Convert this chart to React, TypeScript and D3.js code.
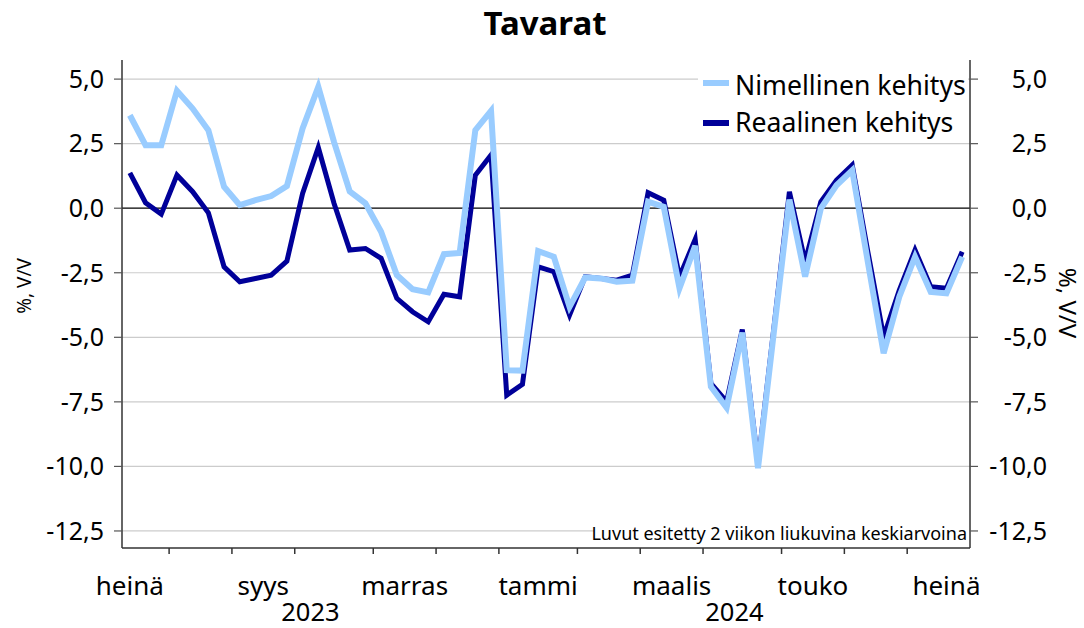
import React from "react";
import * as d3 from "d3";

const weeks: string[] = [
  "2023-07-17","2023-07-24","2023-07-31","2023-08-07","2023-08-14","2023-08-21","2023-08-28",
  "2023-09-04","2023-09-11","2023-09-18","2023-09-25","2023-10-02","2023-10-09","2023-10-16",
  "2023-10-23","2023-10-30","2023-11-06","2023-11-13","2023-11-20","2023-11-27","2023-12-04",
  "2023-12-11","2023-12-18","2023-12-25","2024-01-01","2024-01-08","2024-01-15","2024-01-22",
  "2024-01-29","2024-02-05","2024-02-12","2024-02-19","2024-02-26","2024-03-04","2024-03-11",
  "2024-03-18","2024-03-25","2024-04-01","2024-04-08","2024-04-15","2024-04-22","2024-04-29",
  "2024-05-06","2024-05-13","2024-05-20","2024-05-27","2024-06-03","2024-06-10","2024-06-17",
  "2024-06-24","2024-07-01","2024-07-08","2024-07-15","2024-07-22"
];

const nimellinen: number[] = [
  3.60, 2.44, 2.44, 4.55, 3.86, 3.02, 0.83, 0.12, 0.31, 0.47, 0.86, 3.09, 4.70, 2.57,
  0.65, 0.19, -0.91, -2.59, -3.14, -3.26, -1.78, -1.73, 3.02, 3.77, -6.27, -6.29, -1.66,
  -1.88, -3.82, -2.68, -2.72, -2.85, -2.81, 0.25, 0.05, -3.10, -1.46, -6.91, -7.72, -4.82,
  -10.07, -4.85, 0.33, -2.65, -0.01, 0.89, 1.47, -2.1, -5.62, -3.43, -1.88, -3.24, -3.30, -1.88
];

const reaalinen: number[] = [
  1.37, 0.21, -0.23, 1.28, 0.64, -0.18, -2.27, -2.85, -2.72, -2.59, -2.05, 0.57, 2.35, 0.19,
  -1.62, -1.56, -1.94, -3.49, -4.01, -4.40, -3.33, -3.43, 1.28, 2.06, -7.24, -6.82, -2.27,
  -2.46, -4.14, -2.65, -2.72, -2.79, -2.59, 0.60, 0.31, -2.65, -1.21, -6.78, -7.49, -4.70,
  -9.9, -4.7, 0.64, -2.07, 0.25, 1.09, 1.67, -1.7, -4.98, -3.17, -1.62, -3.04, -3.10, -1.69
];

const yTicks: number[] = [5, 2.5, 0, -2.5, -5, -7.5, -10, -12.5];
const monthNames: string[] = ["tammi","helmi","maalis","huhti","touko","kesä","heinä","elo","syys","loka","marras","joulu"];
const labelMonths: string[] = ["2023-07","2023-09","2023-11","2024-01","2024-03","2024-05","2024-07"];
const years: string[] = ["2023", "2024"];

const W = 1084, H = 628;
const L = 122, R = 970, T = 60, B = 548;
const FONT = "'Noto Sans', 'Open Sans', sans-serif";
const LIGHT = "#99ccff";
const DARK = "#000099";

export default function App() {
  const parse = d3.utcParse("%Y-%m-%d");
  const dates = weeks.map((w) => parse(w) as Date);
  const x = d3.scaleBand<string>().domain(weeks).range([L, R]).paddingInner(0).paddingOuter(0);
  const bw = x.bandwidth();
  const cx = (i: number) => (x(weeks[i]) as number) + bw / 2;
  const y = d3.scaleLinear().domain([-13.16, 5.74]).range([B, T]);
  const fmt = (v: number) => d3.format(".1f")(v).replace(".", ",").replace("−", "-");

  const line = d3
    .line<number>()
    .x((_, i) => cx(i))
    .y((d) => y(d));

  const monthTicks: number[] = [];
  for (let i = 1; i < dates.length; i++) {
    if (dates[i].getUTCMonth() !== dates[i - 1].getUTCMonth()) monthTicks.push(x(weeks[i]) as number);
  }
  const t0 = dates[0].getTime();
  const idxOf = (d: Date) => (d.getTime() - t0) / (7 * 86400000);
  const monthLabels = labelMonths.map((m) => {
    const start = parse(m + "-01") as Date;
    const end = d3.utcMonth.offset(start, 1);
    const mondays = d3.utcMonday.range(start, end);
    const si = idxOf(mondays[0]);
    const center = L + bw * (si + mondays.length / 2);
    return { text: monthNames[start.getUTCMonth()], x: center };
  });
  const yearLabels = years.map((yr) => {
    const s = parse(yr + "-01-01") as Date;
    const e = parse(String(+yr + 1) + "-01-01") as Date;
    const first = d3.utcMonday.ceil(s);
    const last = d3.utcMonday.ceil(e);
    const a = Math.max(L, L + bw * idxOf(first));
    const b = Math.min(R, L + bw * idxOf(last));
    return { text: yr, x: (a + b) / 2 };
  });

  return (
    <svg width={W} height={H} style={{ position: "absolute", left: 0, top: 0, background: "#fff" }} fontFamily={FONT}>
      <rect x={0} y={0} width={W} height={H} fill="#fff" />
      <text x={545} y={35} textAnchor="middle" fontSize={33} fontWeight="bold" fill="#000">Tavarat</text>

      {yTicks.map((t) => (
        <line key={"g" + t} x1={L} x2={R} y1={y(t)} y2={y(t)} stroke={t === 0 ? "#000" : "#cccccc"} strokeWidth={1.2} />
      ))}

      <rect x={698} y={64} width={270} height={76} fill="#fff" />

      <rect x={594} y={521} width={375} height={26} fill="#fff" />
      <text x={967} y={540} textAnchor="end" fontSize={18} fill="#000">Luvut esitetty 2 viikon liukuvina keskiarvoina</text>

      <path d={line(reaalinen) as string} fill="none" stroke={DARK} strokeWidth={5} strokeLinejoin="miter" />
      <path d={line(nimellinen) as string} fill="none" stroke={LIGHT} strokeWidth={6} strokeLinejoin="miter" />

      <line x1={703} x2={729} y1={83} y2={83} stroke={LIGHT} strokeWidth={6} />
      <text x={735} y={95} fontSize={26.6} fill="#000">Nimellinen kehitys</text>
      <line x1={703} x2={729} y1={123} y2={123} stroke={DARK} strokeWidth={6} />
      <text x={735} y={132} fontSize={26.6} fill="#000">Reaalinen kehitys</text>

      <line x1={L} x2={L} y1={T} y2={B} stroke="#333" strokeWidth={1.5} />
      <line x1={R} x2={R} y1={T} y2={B} stroke="#333" strokeWidth={1.5} />
      <line x1={L} x2={R} y1={B} y2={B} stroke="#333" strokeWidth={1.5} />
      {yTicks.map((t) => (
        <g key={"yt" + t}>
          <line x1={L - 8} x2={L} y1={y(t)} y2={y(t)} stroke="#555" strokeWidth={1.2} />
          <line x1={R} x2={R + 8} y1={y(t)} y2={y(t)} stroke="#555" strokeWidth={1.2} />
          <text x={104} y={y(t)} dy="0.35em" textAnchor="end" fontSize={25} fill="#000">{fmt(t)}</text>
          <text x={1047} y={y(t)} dy="0.35em" textAnchor="end" fontSize={25} fill="#000">{fmt(t)}</text>
        </g>
      ))}
      {monthTicks.map((mx, i) => (
        <line key={"mt" + i} x1={mx} x2={mx} y1={B} y2={B + 6} stroke="#333" strokeWidth={1.5} />
      ))}
      {monthLabels.map((m, i) => (
        <text key={"ml" + i} x={m.x} y={595} textAnchor="middle" fontSize={26} fill="#000">{m.text}</text>
      ))}
      {yearLabels.map((m, i) => (
        <text key={"yl" + i} x={m.x} y={621} textAnchor="middle" fontSize={25.5} fill="#000">{m.text}</text>
      ))}

      <text transform="translate(31,286) rotate(-90)" textAnchor="middle" fontSize={19} fill="#000">%, V/V</text>
      <text transform="translate(1059,303) rotate(90)" textAnchor="middle" fontSize={24} fill="#000">%, V/V</text>
    </svg>
  );
}
